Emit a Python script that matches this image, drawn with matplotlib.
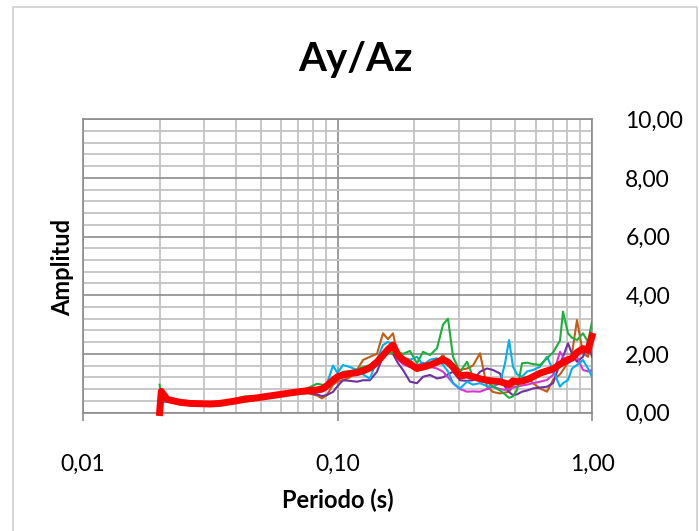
import matplotlib
matplotlib.use("Agg")
import matplotlib.pyplot as plt
from matplotlib.ticker import FixedLocator, MultipleLocator, NullFormatter
from matplotlib.patches import Rectangle

plt.rcParams['font.family'] = ['Lato', 'DejaVu Sans']

# periodo (s)
periodo = [0.0200, 0.0203, 0.0214, 0.0226, 0.0240, 0.0263, 0.0288, 0.0316, 0.0345, 0.0389,
           0.0433, 0.0483, 0.0528, 0.0578, 0.0633, 0.0693, 0.0759, 0.0831, 0.0869, 0.0910,
           0.0960, 0.1000, 0.1051, 0.1119, 0.1193, 0.1259, 0.1341, 0.1429, 0.1509, 0.1579,
           0.1652, 0.1729, 0.1809, 0.1927, 0.2053, 0.2168, 0.2310, 0.2460, 0.2598, 0.2718,
           0.2843, 0.3030, 0.3228, 0.3407, 0.3630, 0.3867, 0.4083, 0.4350, 0.4552, 0.4720,
           0.4894, 0.5074, 0.5309, 0.5555, 0.5865, 0.6248, 0.6655, 0.7030, 0.7485, 0.7692,
           0.8048, 0.8345, 0.8731, 0.9218, 0.9645, 1.0000]

naranja = [0.55, 0.45, 0.50, 0.42, 0.35, 0.31, 0.29, 0.29, 0.30, 0.36,
           0.42, 0.44, 0.50, 0.56, 0.62, 0.66, 0.66, 0.58, 0.48, 0.60,
           0.95, 1.05, 1.10, 1.20, 1.45, 1.79, 1.90, 2.00, 2.70, 2.50,
           2.70, 1.90, 1.88, 1.80, 1.50, 1.55, 1.56, 1.75, 1.96, 1.70,
           1.50, 1.45, 1.50, 1.60, 2.02, 0.88, 0.70, 0.65, 0.68, 0.71,
           0.90, 1.11, 1.15, 1.22, 1.00, 0.82, 0.71, 1.11, 1.30, 1.45,
           1.70, 2.02, 3.15, 2.02, 1.90, 2.70]

morado = [0.50, 0.38, 0.38, 0.35, 0.32, 0.29, 0.28, 0.28, 0.30, 0.36,
          0.42, 0.47, 0.50, 0.55, 0.60, 0.64, 0.68, 0.62, 0.56, 0.60,
          0.70, 0.90, 1.10, 1.08, 1.05, 1.10, 1.10, 1.39, 1.90, 2.10,
          2.00, 1.68, 1.45, 1.05, 1.00, 1.22, 1.28, 1.16, 1.20, 1.30,
          1.39, 1.10, 1.08, 1.10, 1.39, 1.50, 1.45, 1.33, 0.88, 0.70,
          0.59, 0.62, 0.71, 0.75, 0.82, 0.85, 0.88, 1.00, 1.68, 1.90,
          2.36, 2.00, 1.73, 1.90, 2.41, 1.90]

magenta = [0.50, 0.38, 0.37, 0.34, 0.31, 0.29, 0.28, 0.28, 0.30, 0.37,
           0.43, 0.47, 0.52, 0.57, 0.63, 0.67, 0.70, 0.72, 0.72, 0.80,
           1.05, 1.20, 1.25, 1.28, 1.30, 1.38, 1.45, 1.60, 1.85, 2.05,
           2.15, 1.80, 1.65, 1.55, 1.60, 1.70, 1.56, 1.50, 1.39, 1.20,
           1.00, 0.80, 0.71, 0.72, 0.71, 0.80, 0.88, 0.80, 0.77, 0.80,
           0.85, 0.88, 0.92, 0.95, 1.00, 1.05, 1.11, 1.28, 2.07, 1.90,
           1.68, 1.80, 1.90, 1.45, 1.40, 1.45]

celeste = [0.50, 0.38, 0.38, 0.36, 0.33, 0.30, 0.29, 0.29, 0.31, 0.38,
           0.46, 0.49, 0.55, 0.60, 0.68, 0.72, 0.75, 0.78, 0.80, 1.00,
           1.60, 1.35, 1.62, 1.55, 1.45, 1.30, 1.15, 1.80, 2.30, 2.41,
           2.30, 2.10, 1.73, 1.80, 1.90, 1.62, 1.80, 1.85, 1.62, 1.40,
           1.00, 0.82, 1.05, 0.95, 1.00, 0.90, 0.88, 1.00, 1.68, 2.47,
           1.56, 1.30, 1.22, 1.40, 1.45, 1.56, 1.90, 1.45, 0.88, 1.00,
           1.11, 1.50, 1.62, 1.79, 1.50, 1.22]

verde = [0.95, 0.45, 0.40, 0.38, 0.34, 0.30, 0.29, 0.30, 0.33, 0.45,
         0.55, 0.55, 0.58, 0.62, 0.68, 0.74, 0.82, 0.98, 0.95, 0.92,
         1.05, 1.15, 1.39, 1.40, 1.47, 1.55, 1.62, 1.80, 1.95, 2.02,
         2.03, 2.07, 2.00, 2.10, 1.68, 2.07, 1.96, 2.19, 3.00, 3.20,
         1.90, 1.39, 1.73, 1.22, 1.15, 1.05, 0.88, 0.75, 0.62, 0.50,
         0.55, 0.77, 1.68, 1.70, 1.65, 1.62, 1.85, 2.05, 2.45, 3.44,
         2.70, 2.55, 2.47, 2.70, 2.41, 3.10]

promedio = [0.00, 0.72, 0.45, 0.40, 0.35, 0.31, 0.30, 0.29, 0.31, 0.38,
            0.45, 0.50, 0.55, 0.60, 0.65, 0.70, 0.74, 0.77, 0.80, 0.92,
            1.10, 1.22, 1.28, 1.33, 1.36, 1.42, 1.52, 1.72, 1.95, 2.15,
            2.30, 1.95, 1.80, 1.65, 1.50, 1.55, 1.62, 1.72, 1.80, 1.72,
            1.55, 1.25, 1.28, 1.22, 1.15, 1.10, 1.07, 1.05, 1.00, 0.95,
            1.08, 1.05, 1.07, 1.12, 1.22, 1.34, 1.42, 1.48, 1.65, 1.70,
            1.80, 1.85, 2.05, 2.18, 2.12, 2.60]

series = [(naranja, '#C55A11'), (morado, '#7030A0'), (magenta, '#D535D5'),
          (celeste, '#00B0F0'), (verde, '#1DAF3C')]

fig = plt.figure(figsize=(6.99, 5.31), dpi=100)
ax = fig.add_axes([83 / 699, 1 - 412.5 / 531, 509 / 699, 293.2 / 531])

for valores, color in series:
    ax.plot(periodo, valores, color=color, lw=1.5, zorder=3)
ax.plot(periodo, promedio, color='#FF0000', lw=5, zorder=4, clip_on=False)

ax.set_xscale('log')
ax.set_xlim(0.01, 1.0)
ax.set_ylim(0, 10)

ax.xaxis.set_major_locator(FixedLocator([0.01, 0.1, 1.0]))
ax.xaxis.set_minor_locator(FixedLocator([m * d for d in (0.01, 0.1) for m in range(2, 10)]))
ax.xaxis.set_minor_formatter(NullFormatter())
ax.set_xticklabels(['0,01', '0,10', '1,00'])
ax.yaxis.set_minor_locator(MultipleLocator(0.4))
ax.yaxis.tick_right()
ax.set_yticks([0, 2, 4, 6, 8, 10])
ax.set_yticklabels(['0,00', '2,00', '4,00', '6,00', '8,00', '10,00'], ha='left')

ax.grid(which='major', color='#8C8C8C', lw=1.2)
ax.grid(which='minor', color='#C4C4C4', lw=1.3)
ax.set_axisbelow(True)
for s in ax.spines.values():
    s.set_color('#8C8C8C')
    s.set_linewidth(1.2)

ax.tick_params(axis='x', which='major', length=6, color='#8C8C8C', width=1.2,
               pad=24, labelsize=16.5)
ax.tick_params(axis='x', which='minor', length=0)
ax.tick_params(axis='y', which='both', length=0, pad=24, labelsize=16.5)

fig.text(355 / 699, 1 - 59 / 531, 'Ay/Az', fontsize=29, fontweight='bold',
         ha='center', va='center')
fig.text(338 / 699, 1 - 500 / 531, 'Periodo (s)', fontsize=17, fontweight='bold',
         ha='center', va='center')
fig.text(63 / 699, 1 - 267 / 531, 'Amplitud', fontsize=17, fontweight='bold',
         ha='center', va='center', rotation=90)

fig.patches.append(Rectangle((13 / 699, -0.02), 684 / 699, 1.02 - 7 / 531,
                             transform=fig.transFigure, fill=False,
                             edgecolor='#D0D0D0', lw=1.2))

fig.savefig('out.png', dpi=100)
